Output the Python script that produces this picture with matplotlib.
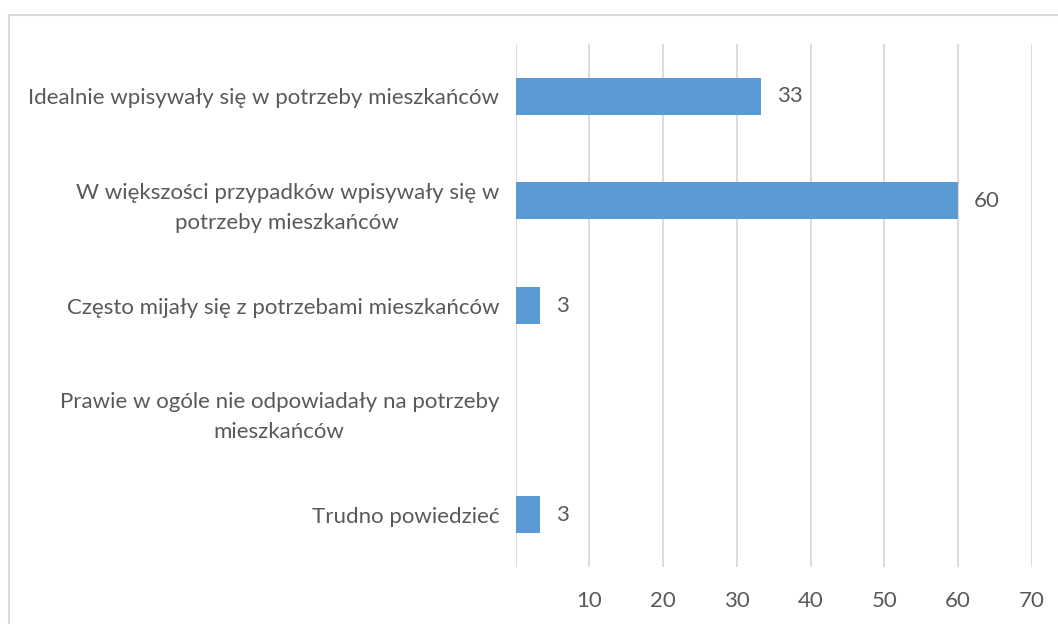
import matplotlib.pyplot as plt
from matplotlib.lines import Line2D

# Dane z wykresu
categories = [
    "Idealnie wpisywały się w potrzeby mieszkańców",
    "W większości przypadków wpisywały się w\npotrzeby mieszkańców",
    "Często mijały się z potrzebami mieszkańców",
    "Prawie w ogóle nie odpowiadały na potrzeby\nmieszkańców",
    "Trudno powiedzieć",
]
values = [33.3, 60.0, 3.3, 0.0, 3.3]
value_labels = ["33", "60", "3", None, "3"]
x_ticks = [10, 20, 30, 40, 50, 60, 70]

plt.rcParams['font.family'] = ['Lato', 'DejaVu Sans']
text_color = '#595959'
grid_color = '#D9D9D9'
bar_color = '#5B9BD5'
fs = 16

fig = plt.figure(figsize=(10.58, 6.24), dpi=100)
ax = fig.add_axes([515.7 / 1058, 1 - 567 / 624, (1031.7 - 515.7) / 1058, (567 - 44) / 624])

y_pos = list(range(len(categories)))
ax.barh(y_pos, values, height=0.355, color=bar_color, zorder=3)

# Etykiety wartości
for y, v, lab in zip(y_pos, values, value_labels):
    if lab is None:
        continue
    ax.annotate(lab, (v, y), xytext=(16, 0), textcoords='offset pixels',
                ha='left', va='center', fontsize=fs, color=text_color)

ax.set_ylim(len(categories) - 0.5, -0.5)
ax.set_xlim(0, 70)
ax.set_xticks(x_ticks)
ax.set_xticklabels([str(t) for t in x_ticks], fontsize=fs, color=text_color)
ax.set_yticks(y_pos)
ax.set_yticklabels(categories, fontsize=fs, color=text_color, multialignment='center', linespacing=1.65)
ax.tick_params(axis='both', length=0)
ax.tick_params(axis='x', pad=17)
ax.tick_params(axis='y', pad=12)

ax.grid(axis='x', color=grid_color, linewidth=1.3, zorder=0)
ax.axvline(0, color=grid_color, linewidth=1.3, zorder=1)
for s in ax.spines.values():
    s.set_visible(False)

# Ramka wykresu (lewa i górna krawędź)
fig.add_artist(Line2D([9 / 1058, 1.0], [1 - 15 / 624, 1 - 15 / 624], color=grid_color, linewidth=1.5,
                      transform=fig.transFigure))
fig.add_artist(Line2D([9 / 1058, 9 / 1058], [0.0, 1 - 15 / 624], color=grid_color, linewidth=1.5,
                      transform=fig.transFigure))

plt.savefig('out.png', dpi=100)
